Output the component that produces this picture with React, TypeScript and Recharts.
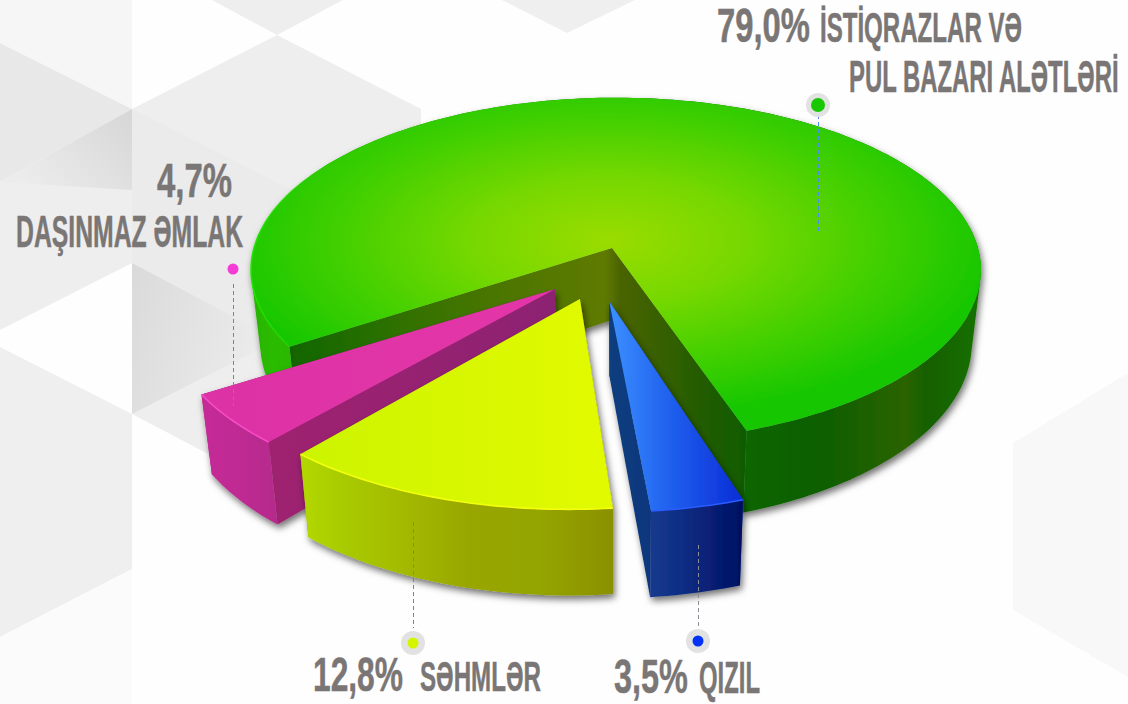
import React from "react";
import { PieChart, Pie } from "recharts";

// values read from the captions
const categories = ["İstiqrazlar və pul bazarı alətləri", "Daşınmaz əmlak", "Səhmlər", "Qızıl"];
const shares = [79.0, 4.7, 12.8, 3.5];
const captionWords = ["İSTİQRAZLAR VƏ", "ƏMLAK", "SƏHMLƏR", "QIZIL"];

const data = categories.map((name, i) => ({ name, value: shares[i] }));
const pct = (v: number) => v.toFixed(1).replace(".", ",") + "%";

// 3d look
const K = 0.127; // perspective
const TILT = 0.468; // ellipse height / width
const DEPTH = 72;
const SHRINK = 0.975;

type Stop = [number, string];
type Look = {
  du: number; dv: number; apexU: number;
  top: string; wall: Stop[]; cut: Stop[]; rim: string;
};

const looks: Record<string, Look> = {
  [categories[0]]: {
    du: 0, dv: 0, apexU: -0.011,
    top: "url(#top0)",
    wall: [[252, "#26b400"], [275, "#2cbc00"], [300, "#2ab400"], [700, "#0c6a00"], [830, "#105e00"], [905, "#2a6400"], [930, "#126000"], [982, "#1a7200"]],
    cut: [[285, "#0f6400"], [380, "#2a7000"], [500, "#4b7600"], [605, "#5f7a00"], [620, "#4a6400"], [700, "#245c00"], [748, "#0e5c00"]],
    rim: "url(#rim0)",
  },
  [categories[1]]: {
    du: -0.192, dv: 0.236, apexU: 0.028,
    top: "url(#top1)",
    wall: [[205, "#c62c98"], [280, "#b5298c"]],
    cut: [[270, "#9e2270"], [555, "#8d2272"]],
    rim: "#f54cc4",
  },
  [categories[2]]: {
    du: -0.11, dv: 0.29, apexU: 0.014,
    top: "url(#top2)",
    wall: [[295, "#b4da00"], [345, "#a8ca00"], [410, "#a2b800"], [470, "#98a600"], [540, "#94a400"], [616, "#8a9000"]],
    cut: [[295, "#a0b000"], [616, "#8a9000"]],
    rim: "#f4ff10",
  },
  [categories[3]]: {
    du: -0.022, dv: 0.302, apexU: 0.004,
    top: "url(#top3)",
    wall: [[650, "#163a8e"], [690, "#0c2a80"], [745, "#000e60"]],
    cut: [[609, "#113f7e"], [650, "#10367e"]],
    rim: "#2a5cff",
  },
};

function WedgeDefs({ id, look }: { id: number; look: Look }) {
  const ramp = (key: string, stops: Stop[]) => {
    const a = stops[0][0];
    const b = stops[stops.length - 1][0];
    return (
      <linearGradient id={key} gradientUnits="userSpaceOnUse" x1={a} x2={b} y1={0} y2={0}>
        {stops.map(([x, c]) => (
          <stop key={x} offset={(x - a) / (b - a)} stopColor={c} />
        ))}
      </linearGradient>
    );
  };
  return (
    <defs>
      {ramp(`wall${id}`, look.wall)}
      {ramp(`cut${id}`, look.cut)}
    </defs>
  );
}

type Pt = { x: number; y: number; s: number };

const toPath = (pts: { x: number; y: number }[], close = true) =>
  pts.map((p, i) => `${i ? "L" : "M"}${p.x.toFixed(1)} ${p.y.toFixed(1)}`).join(" ") + (close ? " Z" : "");

// every quad wound the same way so the band fills its real silhouette
const bandPath = (top: Pt[], bottom: Pt[]) => {
  const parts: string[] = [];
  for (let i = 0; i < top.length - 1; i++) {
    const q = [top[i], top[i + 1], bottom[i + 1], bottom[i]];
    let area = 0;
    q.forEach((p, j) => {
      const o = q[(j + 1) % 4];
      area += p.x * o.y - o.x * p.y;
    });
    parts.push(toPath(area < 0 ? q.reverse() : q));
  }
  return parts.join(" ");
};

function Wedge3D(props: any) {
  const { cx, cy, outerRadius, startAngle, endAngle, name } = props;
  const id = categories.indexOf(name);
  const look = looks[name];
  const H = outerRadius * TILT;

  const project = (u: number, v: number): Pt => {
    const s = 1 / (1 - K * v);
    return { x: cx + outerRadius * u * s, y: cy + H * v * s, s };
  };
  const rimAt = (deg: number) => {
    const r = (deg * Math.PI) / 180;
    return project(Math.cos(r) + look.du, -Math.sin(r) + look.dv);
  };
  const under = (p: Pt): Pt => ({
    x: cx + (p.x - cx) * SHRINK,
    y: p.y + DEPTH * p.s,
    s: p.s,
  });

  const n = Math.ceil(Math.abs(endAngle - startAngle) / 1.2);
  const rim = Array.from({ length: n + 1 }, (_, i) => rimAt(startAngle + ((endAngle - startAngle) * i) / n));
  const apex = project(look.du + look.apexU, look.dv);
  const first = rim[0];
  const last = rim[rim.length - 1];

  return (
    <g filter="url(#drop)">
      <WedgeDefs id={id} look={look} />
      <path d={toPath([apex, first, under(first), under(apex)])} fill={`url(#cut${id})`} />
      <path d={toPath([apex, last, under(last), under(apex)])} fill={`url(#cut${id})`} />
      <path d={bandPath(rim, rim.map(under))} fill={`url(#wall${id})`} />
      <path d={toPath([apex, ...rim])} fill={look.top} />
      <path d={toPath(rim, false)} fill="none" stroke={look.rim} strokeWidth={1.6} />
    </g>
  );
}

const FONT = '"Liberation Sans Narrow", "Liberation Sans", sans-serif';

const measurer = document.createElement("canvas").getContext("2d");

// squeezes the caption to the width it has in the picture
function Caption({ x, w, y, size, text, fill = "#7a7675" }: any) {
  measurer.font = `700 ${size}px ${FONT}`;
  const sx = w / measurer.measureText(text).width;
  return (
    <text
      transform={`translate(${x} ${y}) scale(${sx.toFixed(3)} 1)`}
      fontFamily={FONT}
      fontWeight={700}
      fontSize={size}
      fill={fill}
      stroke={fill}
      strokeWidth={0.5}
    >
      {text}
    </text>
  );
}

function Callout({ x, from, to, dotY, color, halo, r, line = "#4f88f0" }: any) {
  return (
    <g>
      <line x1={x + 0.5} x2={x + 0.5} y1={from} y2={to} stroke={line} strokeWidth={1} strokeDasharray="4 3" />
      <circle cx={x} cy={dotY} r={12} fill={halo} />
      <circle cx={x} cy={dotY} r={r} fill={color} />
    </g>
  );
}

function Backdrop() {
  return (
    <svg width={1128} height={704} style={{ position: "absolute", left: 0, top: 0 }}>
      <defs>
        <linearGradient id="bgA" x1="1" y1="0" x2="0" y2="0.6">
          <stop offset="0" stopColor="#d6d6d6" />
          <stop offset="1" stopColor="#ececec" />
        </linearGradient>
        <linearGradient id="bgB" x1="0" y1="0" x2="1" y2="0.3">
          <stop offset="0" stopColor="#dadada" />
          <stop offset="1" stopColor="#ececec" />
        </linearGradient>
      </defs>
      <rect width={1128} height={704} fill="#fefefe" />
      <polygon points="0,0 132,0 132,109 0,43" fill="#f6f6f6" />
      <polygon points="0,43 132,109 0,182" fill="#e8e8e8" />
      <polygon points="0,182 132,109 132,263 0,330" fill="#eeeeee" />
      <polygon points="0,182 132,109 132,190" fill="url(#bgA)" />
      <polygon points="132,109 277,35 421,109 421,300 277,375 132,263" fill="#eeeeee" />
      <polygon points="132,109 421,255 421,300 277,375 132,263" fill="#ebebeb" />
      <polygon points="132,263 277,340 277,375 132,414" fill="url(#bgB)" />
      <polygon points="132,414 277,340 300,480 277,490" fill="#eeeeee" />
      <polygon points="0,347 132,414 132,569 0,637" fill="#efefef" />
      <polygon points="132,569 132,704 0,704 0,637" fill="#fbfbfb" />
      <polygon points="212,0 277,35 343,0" fill="#eeeeee" />
      <polygon points="502,0 567,33 635,0" fill="#efefef" />
      <polygon points="1013,443 1128,373 1128,677 1013,610" fill="#f8f8f8" />
    </svg>
  );
}

export default function App() {
  return (
    <div style={{ position: "absolute", left: 0, top: 0, width: 1128, height: 704, overflow: "hidden" }}>
      <Backdrop />
      <div style={{ position: "absolute", left: 0, top: 0 }}>
        <PieChart width={1128} height={704} margin={{ top: 0, right: 0, bottom: 0, left: 0 }}>
          <defs>
            <filter id="drop" x="-10%" y="-10%" width="120%" height="120%">
              <feDropShadow dx={2} dy={4} stdDeviation={3.5} floodColor="#000" floodOpacity={0.55} />
            </filter>
            <radialGradient id="top0" cx="0.49" cy="0.43" r="0.54">
              <stop offset="0" stopColor="#9adc00" />
              <stop offset="0.35" stopColor="#76d800" />
              <stop offset="0.7" stopColor="#40cf00" />
              <stop offset="1" stopColor="#14c600" />
            </radialGradient>
            <linearGradient id="rim0" gradientUnits="userSpaceOnUse" x1={250} x2={320} y1={0} y2={0}>
              <stop offset="0" stopColor="#22e400" />
              <stop offset="1" stopColor="#22e400" stopOpacity={0} />
            </linearGradient>
            <linearGradient id="top1" x1="0" y1="0" x2="1" y2="0">
              <stop offset="0" stopColor="#dc32a6" />
              <stop offset="1" stopColor="#e436a8" />
            </linearGradient>
            <linearGradient id="top2" x1="0" y1="0" x2="1" y2="0">
              <stop offset="0" stopColor="#ccf400" />
              <stop offset="1" stopColor="#e2fa00" />
            </linearGradient>
            <linearGradient id="top3" x1="0" y1="0" x2="1" y2="0">
              <stop offset="0" stopColor="#3c90ff" />
              <stop offset="0.45" stopColor="#2060ee" />
              <stop offset="1" stopColor="#0a2cd6" />
            </linearGradient>
          </defs>
          <Pie
            data={data}
            dataKey="value"
            nameKey="name"
            cx={616}
            cy={248}
            outerRadius={362}
            startAngle={-71.5}
            endAngle={288.5}
            paddingAngle={0}
            stroke="none"
            labelLine={false}
            isAnimationActive={false}
            shape={Wedge3D}
          />
        </PieChart>
      </div>

      {/* callouts sit on top of the pie */}
      <svg width={1128} height={704} style={{ position: "absolute", left: 0, top: 0 }}>
        <Callout x={818} from={115} to={232} dotY={105} color="#18c800" halo="#e2e2e2" r={7} />
        <Callout x={233} from={277} to={406} dotY={269} color="#f53cd6" halo="#ebebeb" r={5.5} />
        <Callout x={413} from={522} to={628} dotY={643} color="#d4f500" halo="#e2e2e2" r={5.5} />
        <Callout x={698} from={545} to={628} dotY={641} color="#0533f5" halo="#e2e2e2" r={5.5} line="#8a8f98" />

        <Caption x={717} w={93} y={42} size={48} text={pct(shares[0])} />
        <Caption x={820} w={202} y={42} size={43} text={captionWords[0]} />
        <Caption x={849} w={271} y={92} size={44} text="PUL BAZARI ALƏTLƏRİ" />
        <Caption x={157} w={75} y={197} size={48} text={pct(shares[1])} />
        <Caption x={16} w={227} y={247} size={44} text={"DAŞINMAZ " + captionWords[1]} />
        <Caption x={313} w={90} y={691} size={49} text={pct(shares[2])} />
        <Caption x={420} w={121} y={691} size={43} text={captionWords[2]} />
        <Caption x={614} w={74} y={693} size={48} text={pct(shares[3])} />
        <Caption x={699} w={61} y={693} size={44} text={captionWords[3]} />
      </svg>
    </div>
  );
}
